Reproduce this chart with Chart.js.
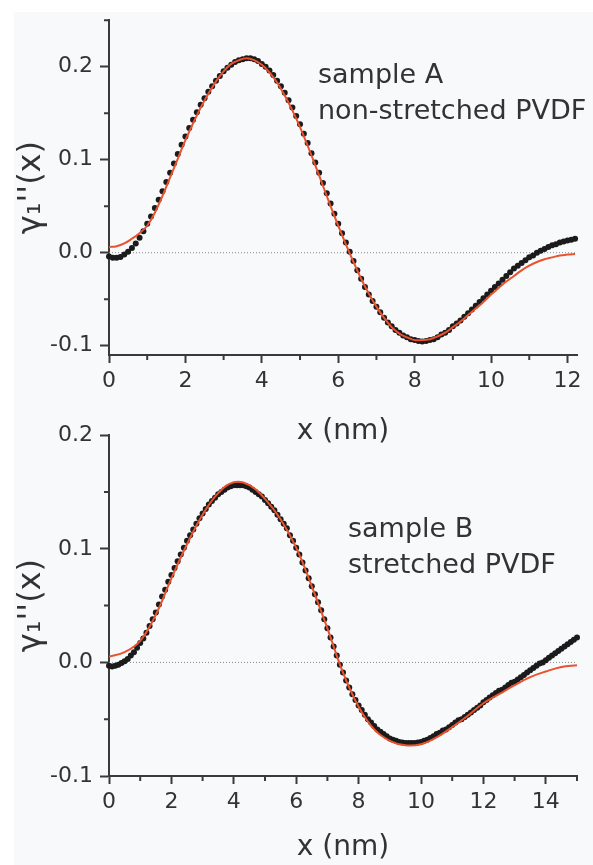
<!DOCTYPE html>
<html><head><meta charset="utf-8">
<script src="https://cdn.jsdelivr.net/npm/chart.js@4.4.1/dist/chart.umd.min.js"></script>
<style>
html,body{margin:0;padding:0;background:#fff;width:593px;height:865px;overflow:hidden;}
#bg{position:absolute;left:14px;top:12px;right:0;bottom:0;background:#f8f9fb;}
canvas{position:absolute;left:0;}
#cA{top:0px;} #cB{top:415px;}
</style></head><body>
<div id="bg"></div>
<canvas id="cA" width="593" height="450"></canvas>
<canvas id="cB" width="593" height="450"></canvas>
<script>
// ---------- Panel A : sample A, non-stretched PVDF ----------
const xPtsA = [0,0.1,0.2,0.3,0.4,0.5,0.6,0.7,0.8,0.9,
 1,1.1,1.2,1.3,1.4,1.5,1.6,1.7,1.8,1.9,
 2,2.1,2.2,2.3,2.4,2.5,2.6,2.7,2.8,2.9,
 3,3.1,3.2,3.3,3.4,3.5,3.6,3.7,3.8,3.9,
 4,4.1,4.2,4.3,4.4,4.5,4.6,4.7,4.8,4.9,
 5,5.1,5.2,5.3,5.4,5.5,5.6,5.7,5.8,5.9,
 6,6.1,6.2,6.3,6.4,6.5,6.6,6.7,6.8,6.9,
 7,7.1,7.2,7.3,7.4,7.5,7.6,7.7,7.8,7.9,
 8,8.1,8.2,8.3,8.4,8.5,8.6,8.7,8.8,8.9,
 9,9.1,9.2,9.3,9.4,9.5,9.6,9.7,9.8,9.9,
 10,10.1,10.2,10.3,10.4,10.5,10.6,10.7,10.8,10.9,
 11,11.1,11.2,11.3,11.4,11.5,11.6,11.7,11.8,11.9,
 12,12.1,12.2];
const yPtsA = [-0.004,-0.0055,-0.0055,-0.0045,-0.002,0.001,0.005,0.010,0.016,0.023,
 0.031,0.039,0.048,0.057,0.066,0.076,0.086,0.096,0.106,0.116,
 0.125,0.134,0.143,0.151,0.159,0.166,0.173,0.179,0.185,0.190,
 0.195,0.199,0.202,0.205,0.207,0.208,0.209,0.209,0.208,0.206,
 0.203,0.200,0.196,0.191,0.185,0.179,0.172,0.164,0.156,0.147,
 0.138,0.128,0.118,0.107,0.097,0.086,0.075,0.064,0.053,0.042,
 0.031,0.021,0.011,0.001,-0.009,-0.019,-0.028,-0.037,-0.045,-0.052,
 -0.058,-0.064,-0.070,-0.075,-0.079,-0.083,-0.086,-0.089,-0.091,-0.093,
 -0.094,-0.095,-0.0955,-0.095,-0.094,-0.093,-0.091,-0.088,-0.086,-0.083,
 -0.079,-0.076,-0.073,-0.069,-0.065,-0.061,-0.057,-0.053,-0.049,-0.045,
 -0.041,-0.037,-0.033,-0.029,-0.025,-0.021,-0.017,-0.014,-0.011,-0.008,
 -0.005,-0.003,0.000,0.002,0.004,0.006,0.008,0.009,0.011,0.012,
 0.013,0.014,0.015];
const xFitA = [0,0.2,0.4,0.6,0.8,1,1.2,1.4,1.6,1.8,
 2,2.2,2.4,2.6,2.8,3,3.2,3.4,3.6,3.8,
 4,4.2,4.4,4.6,4.8,5,5.2,5.4,5.6,5.8,
 6,6.2,6.4,6.6,6.8,7,7.2,7.4,7.6,7.8,
 8,8.2,8.4,8.6,8.8,9,9.2,9.4,9.6,9.8,
 10,10.2,10.4,10.6,10.8,11,11.2,11.4,11.6,11.8,
 12,12.2];
const yFitA = [0.006,0.007,0.010,0.015,0.021,0.029,0.043,0.061,0.081,0.101,
 0.121,0.139,0.156,0.171,0.184,0.195,0.203,0.207,0.209,0.207,
 0.202,0.194,0.183,0.169,0.153,0.135,0.115,0.094,0.072,0.050,
 0.029,0.009,-0.010,-0.028,-0.044,-0.058,-0.070,-0.080,-0.087,-0.091,
 -0.094,-0.094,-0.093,-0.090,-0.086,-0.080,-0.074,-0.067,-0.060,-0.053,
 -0.045,-0.038,-0.031,-0.025,-0.019,-0.014,-0.010,-0.007,-0.005,-0.003,
 -0.002,-0.0015];
const xRangeA = [0, 12.25];
const yRangeA = [-0.11, 0.25];
const xTicksA = [0,2,4,6,8,10,12];
const xMinorA = [1,3,5,7,9,11];
const yTicksA = [-0.1,0,0.1,0.2];
const yMinorA = [-0.05,0.05,0.15,0.25];
const notesA = ['sample A','non-stretched PVDF'];

// ---------- Panel B : sample B, stretched PVDF ----------
const xPtsB = [0,0.1,0.2,0.3,0.4,0.5,0.6,0.7,0.8,0.9,
 1,1.1,1.2,1.3,1.4,1.5,1.6,1.7,1.8,1.9,
 2,2.1,2.2,2.3,2.4,2.5,2.6,2.7,2.8,2.9,
 3,3.1,3.2,3.3,3.4,3.5,3.6,3.7,3.8,3.9,
 4,4.1,4.2,4.3,4.4,4.5,4.6,4.7,4.8,4.9,
 5,5.1,5.2,5.3,5.4,5.5,5.6,5.7,5.8,5.9,
 6,6.1,6.2,6.3,6.4,6.5,6.6,6.7,6.8,6.9,
 7,7.1,7.2,7.3,7.4,7.5,7.6,7.7,7.8,7.9,
 8,8.1,8.2,8.3,8.4,8.5,8.6,8.7,8.8,8.9,
 9,9.1,9.2,9.3,9.4,9.5,9.6,9.7,9.8,9.9,
 10,10.1,10.2,10.3,10.4,10.5,10.6,10.7,10.8,10.9,
 11,11.1,11.2,11.3,11.4,11.5,11.6,11.7,11.8,11.9,
 12,12.1,12.2,12.3,12.4,12.5,12.6,12.7,12.8,12.9,
 13,13.1,13.2,13.3,13.4,13.5,13.6,13.7,13.8,13.9,
 14,14.1,14.2,14.3,14.4,14.5,14.6,14.7,14.8,14.9,
 15];
const yPtsB = [-0.003,-0.0035,-0.003,-0.002,-0.0005,0.001,0.003,0.006,0.009,0.013,
 0.017,0.021,0.026,0.032,0.038,0.044,0.051,0.058,0.064,0.071,
 0.077,0.083,0.089,0.095,0.101,0.107,0.112,0.117,0.122,0.127,
 0.131,0.135,0.139,0.142,0.145,0.148,0.150,0.152,0.154,0.155,
 0.156,0.156,0.156,0.156,0.155,0.154,0.152,0.150,0.148,0.146,
 0.143,0.140,0.137,0.134,0.130,0.126,0.122,0.118,0.112,0.107,
 0.101,0.095,0.088,0.081,0.074,0.067,0.060,0.053,0.046,0.038,
 0.030,0.022,0.014,0.006,-0.002,-0.009,-0.016,-0.022,-0.028,-0.033,
 -0.038,-0.042,-0.046,-0.050,-0.053,-0.056,-0.059,-0.061,-0.063,-0.065,
 -0.067,-0.068,-0.069,-0.070,-0.0705,-0.071,-0.071,-0.071,-0.071,-0.0705,
 -0.070,-0.069,-0.068,-0.0665,-0.065,-0.063,-0.062,-0.060,-0.059,-0.057,
 -0.055,-0.053,-0.051,-0.050,-0.048,-0.046,-0.044,-0.042,-0.040,-0.038,
 -0.035,-0.033,-0.031,-0.029,-0.027,-0.025,-0.024,-0.022,-0.020,-0.018,
 -0.017,-0.015,-0.013,-0.011,-0.009,-0.007,-0.005,-0.003,-0.001,0.000,
 0.002,0.004,0.006,0.008,0.010,0.012,0.014,0.016,0.018,0.020,
 0.022];
const xFitB = [0,0.5,1,1.5,2,2.5,3,3.5,4,4.5,5,5.5,6,6.5,7,7.5,8,8.5,9,9.5,10,10.5,11,11.5,12,12.5,13,13.5,14,14.5,15];
const yFitB = [0.005,0.009,0.019,0.042,0.074,0.104,0.130,0.149,0.1585,0.156,0.144,0.126,0.101,0.067,0.030,-0.009,-0.039,-0.059,-0.069,-0.073,-0.072,-0.066,-0.057,-0.047,-0.036,-0.028,-0.020,-0.013,-0.008,-0.004,-0.0025];
const xRangeB = [0, 15];
const yRangeB = [-0.1, 0.2];
const xTicksB = [0,2,4,6,8,10,12,14];
const xMinorB = [1,3,5,7,9,11,13,15];
const yTicksB = [-0.1,0,0.1,0.2];
const yMinorB = [-0.05,0.05,0.15];
const notesB = ['sample B','stretched PVDF'];

const xTitle = 'x (nm)';
const yTitle = "\u03B3\u2081''(x)";

// ---------- styling ----------
const FONT = "'DejaVu Sans', sans-serif";
const AX = '#3a3a3a', TX = '#333333', RED = '#e8522f', BLACK = '#1b1b1b';
Chart.defaults.font.family = FONT;

const pairs = (xs, ys) => xs.map((x, i) => ({x: x, y: ys[i]}));

const minorTicks = {
  id: 'minorTicks',
  afterDraw(chart, args, o) {
    const {ctx, chartArea: a, scales: {x, y}} = chart;
    ctx.save();
    ctx.strokeStyle = o.color; ctx.lineWidth = 2;
    ctx.beginPath();
    o.x.forEach(v => { const p = x.getPixelForValue(v); ctx.moveTo(p, a.bottom); ctx.lineTo(p, a.bottom + o.len); });
    o.y.forEach(v => { const p = y.getPixelForValue(v); ctx.moveTo(a.left, p); ctx.lineTo(a.left - o.len, p); });
    ctx.stroke();
    ctx.restore();
  }
};
const notes = {
  id: 'notes',
  afterDraw(chart, args, o) {
    const ctx = chart.ctx;
    ctx.save();
    ctx.font = o.size + 'px ' + FONT;
    ctx.fillStyle = o.color;
    ctx.textBaseline = 'alphabetic';
    ctx.textAlign = 'left';
    o.lines.forEach((t, i) => ctx.fillText(t, o.x, o.y[i]));
    ctx.restore();
  }
};

function makeChart(id, c) {
  return new Chart(document.getElementById(id), {
    type: 'scatter',
    data: { datasets: [
      { label: 'fit', data: pairs(c.xFit, c.yFit), showLine: true, borderColor: RED, borderWidth: 2,
        pointRadius: 0, tension: 0.4, fill: false, order: 0, clip: false },
      { label: 'data', data: pairs(c.xPts, c.yPts), showLine: false, pointRadius: 3,
        pointBackgroundColor: BLACK, pointBorderWidth: 0, pointBorderColor: BLACK, order: 1, clip: false },
      { label: 'zero', data: [{x: c.xRange[0], y: 0}, {x: c.xRange[1], y: 0}], showLine: true,
        borderColor: '#8a8a8a', borderWidth: 1, borderDash: [1, 2], pointRadius: 0, order: 2 }
    ]},
    options: {
      responsive: false, animation: false, devicePixelRatio: 1,
      layout: { padding: { top: c.padTop, right: 16, left: 0, bottom: 0 } },
      plugins: {
        legend: { display: false }, tooltip: { enabled: false },
        minorTicks: { x: c.xMinor, y: c.yMinor, len: 5, color: AX },
        notes: { lines: c.notes, x: c.noteX, y: c.noteY, size: 27, color: TX }
      },
      scales: {
        x: {
          type: 'linear', position: 'bottom', min: c.xRange[0], max: c.xRange[1],
          afterBuildTicks: s => { s.ticks = c.xTicks.map(v => ({value: v})); },
          afterFit: s => { s.height = c.xH; },
          grid: { drawOnChartArea: false, drawTicks: true, tickLength: 8, tickWidth: 2, tickColor: AX, color: AX },
          border: { display: true, color: AX, width: 2 },
          ticks: { color: TX, font: { size: 22 }, padding: 5, maxRotation: 0, autoSkip: false,
                   callback: v => String(v) },
          title: { display: true, text: xTitle, color: TX, font: { size: 28 }, padding: { top: 0, bottom: c.xTitlePad } }
        },
        y: {
          type: 'linear', position: 'left', min: c.yRange[0], max: c.yRange[1],
          afterBuildTicks: s => { s.ticks = c.yTicks.map(v => ({value: v})); },
          afterFit: s => { s.width = 109; },
          grid: { drawOnChartArea: false, drawTicks: true, tickLength: 9, tickWidth: 2, tickColor: AX, color: AX },
          border: { display: true, color: AX, width: 2 },
          ticks: { color: TX, font: { size: 22 }, padding: 7, autoSkip: false,
                   callback: v => Number(v).toFixed(1) },
          title: { display: true, text: yTitle, color: TX, font: { size: 32 }, padding: { top: 12, bottom: 0 } }
        }
      }
    },
    plugins: [minorTicks, notes]
  });
}

makeChart('cA', { xPts: xPtsA, yPts: yPtsA, xFit: xFitA, yFit: yFitA, xRange: xRangeA, yRange: yRangeA,
  xTicks: xTicksA, xMinor: xMinorA, yTicks: yTicksA, yMinor: yMinorA, notes: notesA,
  noteX: 318, noteY: [83, 119], padTop: 13, xH: 95, xTitlePad: 1 });
makeChart('cB', { xPts: xPtsB, yPts: yPtsB, xFit: xFitB, yFit: yFitB, xRange: xRangeB, yRange: yRangeB,
  xTicks: xTicksB, xMinor: xMinorB, yTicks: yTicksB, yMinor: yMinorB, notes: notesB,
  noteX: 348, noteY: [122, 158], padTop: 18, xH: 89, xTitlePad: 0 });
</script>
</body></html>
